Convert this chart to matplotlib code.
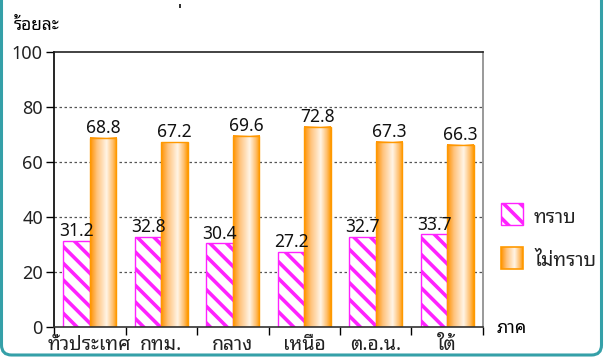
import matplotlib
matplotlib.use("Agg")
import matplotlib.pyplot as plt
import numpy as np
from matplotlib.patches import Rectangle, FancyBboxPatch
from matplotlib.colors import LinearSegmentedColormap

categories = ["ทั่วประเทศ", "กทม.", "กลาง", "เหนือ", "ต.อ.น.", "ใต้"]
series_names = ["ทราบ", "ไม่ทราบ"]
know = [31.2, 32.8, 30.4, 27.2, 32.7, 33.7]
not_know = [68.8, 67.2, 69.6, 72.8, 67.3, 66.3]
y_ticks = [0, 20, 40, 60, 80, 100]
y_label = "ร้อยละ"
x_label = "ภาค"

FONT = ['Noto Sans Thai Looped', 'DejaVu Sans']
plt.rcParams['font.family'] = FONT
plt.rcParams['hatch.linewidth'] = 2.6

PINK = '#FF22FF'
ORANGE = '#FF9900'
grad_cmap = LinearSegmentedColormap.from_list(
    'og', [(0.0, '#FF9200'), (0.25, '#FFC27A'), (0.62, '#FFF4E6'), (0.85, '#FFC070'), (1.0, '#FF9900')])
grad = np.linspace(0, 1, 64).reshape(1, -1)

fig = plt.figure(figsize=(6.06, 3.57), dpi=100)
W, H = 606, 357
ax = fig.add_axes([54 / W, 1 - 327 / H, (483 - 54) / W, (327 - 52) / H])

x = np.arange(len(categories))
bw = 0.37

for xi, v in zip(x, know):
    ax.add_patch(Rectangle((xi - bw, 0), bw, v, facecolor='white', edgecolor=PINK,
                           hatch='\\\\', linewidth=1.0, zorder=3))
    ax.text(xi - bw / 2, v + 0.3, f"{v:.1f}", ha='center', va='bottom', fontsize=12.5,
            color='#111111', zorder=5)

for xi, v in zip(x, not_know):
    ax.imshow(grad, extent=(xi, xi + bw, 0, v), aspect='auto', cmap=grad_cmap, zorder=3,
              interpolation='bilinear')
    ax.add_patch(Rectangle((xi, 0), bw, v, facecolor='none', edgecolor=ORANGE,
                           linewidth=1.0, zorder=4))
    ax.text(xi + bw / 2, v + 0.3, f"{v:.1f}", ha='center', va='bottom', fontsize=12.5,
            color='#111111', zorder=5)

ax.set_xlim(-0.5, len(categories) - 0.5)
ax.set_ylim(0, 100)
ax.set_aspect('auto')

ax.set_yticks(y_ticks)
ax.set_yticklabels([str(t) for t in y_ticks], fontsize=13, color='#222222')
ax.tick_params(axis='y', length=6, width=1, color='black', pad=2)
ax.set_xticks(np.arange(-0.5, len(categories)), minor=False)
ax.set_xticklabels([])
ax.set_xticks(x, minor=True)
ax.set_xticklabels(categories, minor=True, fontsize=14, color='#222222')
ax.tick_params(axis='x', which='major', length=6, width=1, color='black')
ax.tick_params(axis='x', which='minor', length=0, pad=6)

for yv in y_ticks[1:-1]:
    ax.axhline(yv, color='#555555', linestyle=(0, (2, 2)), linewidth=0.9, zorder=1)

ax.spines['left'].set_color('black')
ax.spines['top'].set_color('#222222')
ax.spines['right'].set_color('#888888')
ax.spines['bottom'].set_color('#333333')
ax.spines['bottom'].set_zorder(6)
for s in ax.spines.values():
    s.set_linewidth(1.2)

fig.text(14 / W, 1 - 25 / H, y_label, fontsize=12.5, fontweight='bold', ha='left', va='center')
fig.text(497 / W, 1 - 328 / H, x_label, fontsize=13, fontweight='bold', ha='left', va='center')

# legend
lax = fig.add_axes([0, 0, 1, 1], facecolor='none')
lax.axis('off')
lax.add_patch(Rectangle((501, 203), 22, 22, facecolor='white', edgecolor=PINK,
                        hatch='\\\\', linewidth=1.0))
lax.text(534, 218, series_names[0], fontsize=14, ha='left', va='center', color='#222222')
lax.imshow(grad, extent=(501, 523, 269, 247), aspect='auto', cmap=grad_cmap,
           interpolation='bilinear')
lax.add_patch(Rectangle((501, 247), 22, 22, facecolor='none', edgecolor=ORANGE, linewidth=1.2))
lax.text(534, 261, series_names[1], fontsize=14, ha='left', va='center', color='#222222')

# teal frame and small cut-off mark at top
lax.add_patch(FancyBboxPatch((1.5, -40), 600, 395, boxstyle='round,pad=0,rounding_size=10',
                             facecolor='none', edgecolor='#35A0A8', linewidth=2.2))
lax.add_patch(Rectangle((179, 4), 2, 4, facecolor='#333333', edgecolor='none'))
lax.set_xlim(0, W)
lax.set_ylim(H, 0)

fig.savefig("out.png", dpi=100)
